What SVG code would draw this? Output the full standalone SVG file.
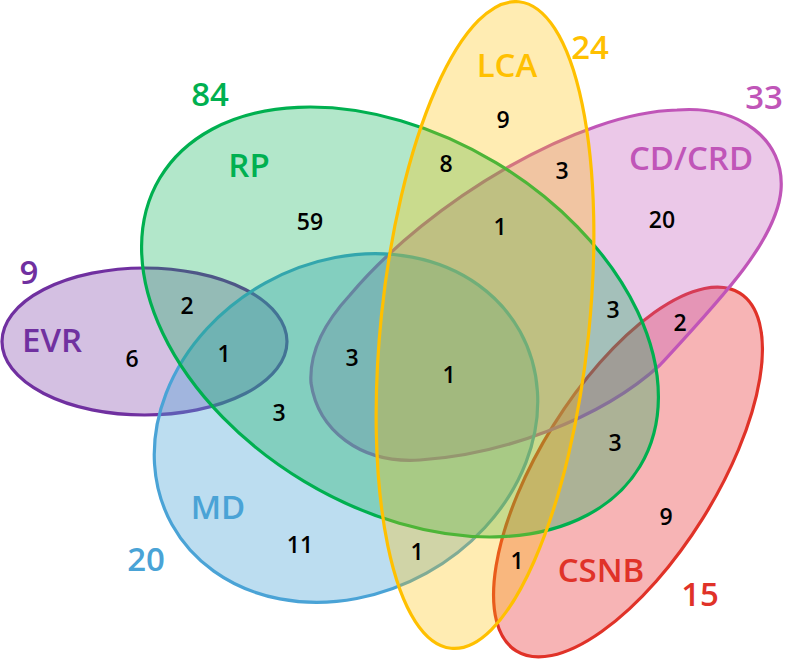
<svg xmlns="http://www.w3.org/2000/svg" width="785" height="660" viewBox="0 0 785 660">
<style>
.set{stroke-width:3.2}
.lbl{font-family:"Open Sans","Liberation Sans",sans-serif;font-weight:600;font-size:33px;text-anchor:middle}
.num{font-family:"Open Sans","Liberation Sans",sans-serif;font-weight:600;font-size:23px;text-anchor:middle;fill:#000}
</style>
<rect width="785" height="660" fill="#fff"/>
<g id="EVR"><ellipse class="set" cx="144.5" cy="341.5" rx="142.5" ry="73.5" fill="rgba(112,48,160,0.3)" stroke="#7030A0"/></g>
<g id="CSNB"><ellipse class="set" cx="628" cy="472" rx="88" ry="211" transform="rotate(32 628 472)" fill="rgba(232,40,42,0.35)" stroke="#E03228"/></g>
<g id="CDCRD"><path class="set" d="M311,383 C309,352 325,322 350,295 C430,200 580,112 677,110 C740,105 785,140 781,190 C777,240 720,300 660,365 C600,420 500,455 420,460 C360,464 318,430 311,383 Z" fill="rgba(192,85,184,0.32)" stroke="#C055B8"/></g>
<g id="MD"><ellipse class="set" cx="346" cy="428" rx="199" ry="166" transform="rotate(-29 346 428)" fill="rgba(74,163,214,0.37)" stroke="#4AA3D6"/></g>
<g id="RP"><ellipse class="set" cx="400" cy="322" rx="280" ry="186" transform="rotate(31 400 322)" fill="rgba(0,176,80,0.3)" stroke="#00B050"/></g>
<g id="LCA"><ellipse class="set" cx="485" cy="325" rx="104" ry="325" transform="rotate(6 485 325)" fill="rgba(255,192,0,0.3)" stroke="#FFC000"/></g>
<g id="labels">
<text class="lbl" x="29" y="284" fill="#7030A0">9</text>
<text class="lbl" x="52" y="352" fill="#7030A0">EVR</text>
<text class="lbl" x="210" y="106" fill="#00B050">84</text>
<text class="lbl" x="249" y="177" fill="#00B050">RP</text>
<text class="lbl" x="507" y="77" fill="#FFC000">LCA</text>
<text class="lbl" x="590" y="59" fill="#FFC000">24</text>
<text class="lbl" x="764" y="109" fill="#C055B8">33</text>
<text class="lbl" x="691" y="170" fill="#C055B8">CD/CRD</text>
<text class="lbl" x="601" y="582" fill="#E03228">CSNB</text>
<text class="lbl" x="700" y="606" fill="#E03228">15</text>
<text class="lbl" x="218" y="519" fill="#4AA3D6">MD</text>
<text class="lbl" x="146" y="571" fill="#4AA3D6">20</text>
</g>
<g id="counts">
<text class="num" x="310" y="230">59</text>
<text class="num" x="503" y="128">9</text>
<text class="num" x="446" y="172">8</text>
<text class="num" x="562" y="179">3</text>
<text class="num" x="500" y="235">1</text>
<text class="num" x="662" y="228">20</text>
<text class="num" x="132" y="367">6</text>
<text class="num" x="187" y="314">2</text>
<text class="num" x="224" y="362">1</text>
<text class="num" x="279" y="421">3</text>
<text class="num" x="352" y="366">3</text>
<text class="num" x="449" y="383">1</text>
<text class="num" x="613" y="318">3</text>
<text class="num" x="680" y="331">2</text>
<text class="num" x="615" y="451">3</text>
<text class="num" x="666" y="525">9</text>
<text class="num" x="517" y="569">1</text>
<text class="num" x="417" y="560">1</text>
<text class="num" x="300" y="553">11</text>
</g>
</svg>
